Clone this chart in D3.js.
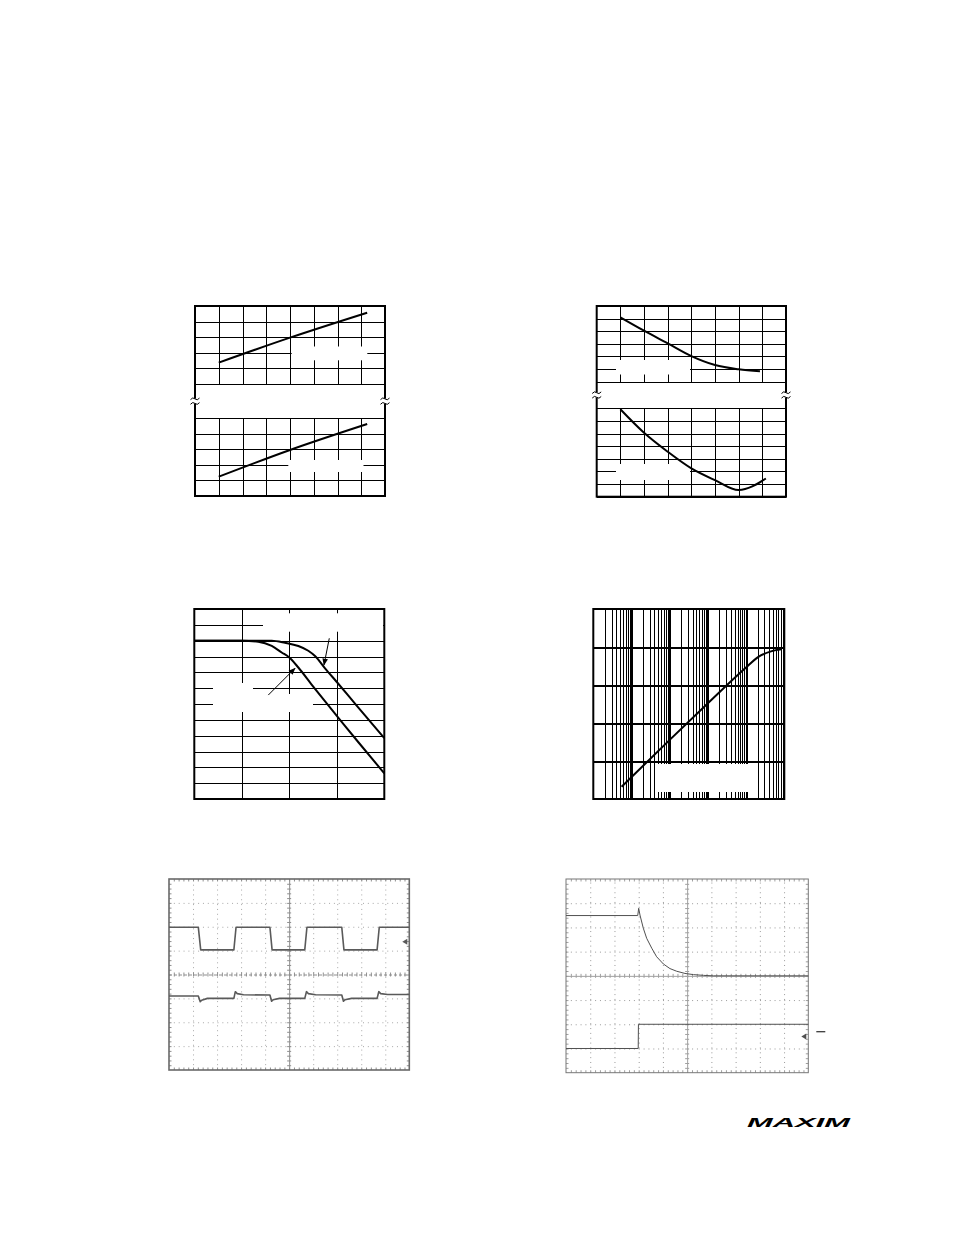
<!DOCTYPE html>
<html><head><meta charset="utf-8">
<script src="https://cdn.jsdelivr.net/npm/d3@7"></script>
<style>body{margin:0;background:#fff}svg{display:block}</style>
</head><body>
<script>
// ================= DATA =================
// Panel 1 (top-left): split axis, two straight lines vs temperature
const p1XTicks = [-60, -40, -20, 0, 20, 40, 60, 80, 100];
const p1UpperTicks = [1.5, 1.6, 1.7, 1.8, 1.9, 2.0];
const p1LowerTicks = [0.5, 0.6, 0.7, 0.8, 0.9, 1.0];
const p1Temps = [-40, 20, 85];
const p1Upper = [1.637, 1.797, 1.957];
const p1Lower = [0.624, 0.796, 0.963];

// Panel 2 (top-right): split axis, two falling curves vs temperature
const p2XTicks = [-60, -40, -20, 0, 20, 40, 60, 80, 100];
const p2UpperTicks = [0, 1, 2, 3, 4, 5, 6];
const p2LowerTicks = [0, 1, 2, 3, 4, 5, 6, 7];
const p2UpperTemps = [-40, -20, 0, 20, 40, 60, 78];
const p2Upper = [5.1, 4.04, 3.04, 2.03, 1.32, 0.98, 0.82];
const p2LowerTemps = [-40, -20, 0, 20, 40, 60, 83];
const p2Lower = [6.92, 5.06, 3.56, 2.24, 1.31, 0.53, 1.44];

// Panel 3 (middle-left): gain (dB) vs frequency, two responses
const p3XTicks = [1e3, 1e4, 1e5, 1e6, 1e7];
const p3YTicks = [-20, -18, -16, -14, -12, -10, -8, -6, -4, -2, 0, 2, 4];
const p3FreqA = [1e3, 1e4, 22200, 42700, 69200, 1e5, 155000, 295000, 562000, 1e6, 2820000, 1e7];
const p3GainA = [0, 0, -0.13, -0.67, -1.49, -2.13, -3.39, -5.54, -7.65, -9.49, -12.8, -16.76];
const p3FreqB = [1e3, 1e4, 42700, 81100, 155000, 251000, 348000, 565000, 1e6, 2620000, 1e7];
const p3GainB = [0, 0, 0, -0.26, -0.67, -1.27, -1.94, -3.49, -5.22, -8.2, -12.3];
// annotation arrows [fromFreq, fromGain, toFreq, toGain]
const p3Arrows = [[695000, 0.30, 537000, -3.07], [36100, -6.87, 132000, -3.49]];

// Panel 4 (middle-right): log-log
const p4XDecades = [1e-3, 1e-2, 1e-1, 1, 10, 100];
const p4YDecades = [1e-4, 1e-3, 1e-2, 1e-1, 1, 10];
const p4X = [0.0055, 0.1, 1, 9.3, 21, 47, 85];
const p4Y = [0.00021, 0.0036, 0.033, 0.27, 0.55, 0.78, 0.87];

// Scope 1 (bottom-left): time in divisions, volts in divisions
const s1TopT = [0, 1.22, 1.32, 2.70, 2.79, 4.20, 4.29, 5.65, 5.74, 7.19, 7.28, 8.66, 8.75, 10];
const s1TopV = [1.98, 1.98, 1.03, 1.03, 1.98, 1.98, 1.03, 1.03, 1.98, 1.98, 1.03, 1.03, 1.98, 1.98];
const s1BotT = [0, 1.22, 1.30, 1.36, 1.6, 2.70, 2.76, 2.84, 3.1, 4.20, 4.27, 4.33, 4.6, 5.65, 5.72, 5.80, 6.1, 7.19, 7.26, 7.32, 7.6, 8.66, 8.73, 8.81, 9.1, 10];
const s1BotV = [-0.9, -0.9, -1.14, -1.08, -1.0, -1.0, -0.72, -0.8, -0.85, -0.86, -1.12, -1.06, -1.0, -1.0, -0.72, -0.8, -0.85, -0.86, -1.12, -1.06, -1.0, -1.0, -0.72, -0.8, -0.84, -0.84];
const s1Markers = [1.37];

// Scope 2 (bottom-right)
const s2TopT = [0, 2.96, 3.0, 3.054, 3.19, 3.33, 3.54, 3.74, 4.02, 4.29, 4.57, 4.91, 5.26, 5.67, 6.08, 10];
const s2TopV = [2.49, 2.49, 2.79, 2.51, 1.97, 1.55, 1.14, 0.79, 0.49, 0.30, 0.19, 0.10, 0.05, 0.02, 0.0, 0.0];
const s2BotT = [0, 2.98, 2.99, 10];
const s2BotV = [-3.0, -3.0, -2.0, -2.0];
const s2Markers = [-2.51];
const s2OuterDash = [-2.31];

const scopeXTicks = [0, 1, 2, 3, 4, 5, 6, 7, 8, 9, 10];
const scopeYTicks = [-4, -3, -2, -1, 0, 1, 2, 3, 4];

// ================= DRAWING =================
const svg = d3.select('body').append('svg').attr('width', 954).attr('height', 1235);
svg.append('rect').attr('width', 954).attr('height', 1235).attr('fill', '#fff');
const defs = svg.append('defs');
defs.append('marker').attr('id', 'ah').attr('viewBox', '0 0 10 10').attr('refX', 9).attr('refY', 5)
  .attr('markerWidth', 7).attr('markerHeight', 7).attr('markerUnits', 'userSpaceOnUse').attr('orient', 'auto')
  .append('path').attr('d', 'M0,1 L10,5 L0,9 Z').attr('fill', '#000');
defs.append('filter').attr('id', 'blur').append('feGaussianBlur').attr('stdDeviation', 0.65);

function styleAxis(ax, o) {
  ax.select('.domain').remove();
  ax.selectAll('text').remove();
  ax.selectAll('line').attr('stroke', o.color || '#000').attr('stroke-width', o.width || 1)
    .attr('shape-rendering', o.crisp === false ? null : 'crispEdges')
    .attr('stroke-dasharray', o.dash || null);
  return ax;
}
function vGrid(g, scale, ticks, yTop, yBot, o = {}) {
  const ax = g.append('g').attr('transform', `translate(0,${yBot})`)
    .call(d3.axisBottom(scale).tickValues(ticks).tickSize(-(yBot - yTop)).tickFormat(''));
  return styleAxis(ax, o);
}
function hGrid(g, scale, ticks, xL, xR, o = {}) {
  const ax = g.append('g').attr('transform', `translate(${xL},0)`)
    .call(d3.axisLeft(scale).tickValues(ticks).tickSize(-(xR - xL)).tickFormat(''));
  return styleAxis(ax, o);
}
function whiteBoxes(g, boxes) {
  boxes.forEach(b => g.append('rect').attr('x', b[0]).attr('y', b[1])
    .attr('width', b[2] - b[0]).attr('height', b[3] - b[1]).attr('fill', '#fff'));
}
function frame(g, l, t, r, b, w, c) {
  g.append('rect').attr('x', l).attr('y', t).attr('width', r - l).attr('height', b - t)
    .attr('fill', 'none').attr('stroke', c || '#000').attr('stroke-width', w);
}

// ---- split-axis panels ----
function splitPanel(cfg) {
  const g = svg.append('g');
  const x = d3.scaleLinear().domain(d3.extent(cfg.xTicks)).range([cfg.left, cfg.right]);
  const yT = d3.scaleLinear().domain(d3.extent(cfg.upperTicks)).range([cfg.upperBot, cfg.top]);
  const yB = d3.scaleLinear().domain(d3.extent(cfg.lowerTicks)).range([cfg.bottom, cfg.lowerTop]);
  const inner = cfg.xTicks.slice(1, -1);
  vGrid(g, x, inner, cfg.top, cfg.upperBot);
  vGrid(g, x, inner, cfg.lowerTop, cfg.bottom);
  hGrid(g, yT, cfg.upperTicks, cfg.left, cfg.right);
  hGrid(g, yB, cfg.lowerTicks, cfg.left, cfg.right);
  whiteBoxes(g, cfg.boxes);
  frame(g, cfg.left, cfg.top, cfg.right, cfg.bottom, 2);
  const mid = (cfg.upperBot + cfg.lowerTop) / 2;
  [cfg.left, cfg.right].forEach(bx => {
    g.append('rect').attr('x', bx - 2).attr('y', mid - 2.5).attr('width', 4).attr('height', 5).attr('fill', '#fff');
    [-2.3, 2.3].forEach(dy => g.append('path')
      .attr('d', `M${bx - 4.5},${mid + dy + 0.8} q2.25,-3 4.5,-0.8 t4.5,-0.8`)
      .attr('fill', 'none').attr('stroke', '#000').attr('stroke-width', 1));
  });
  const lineT = d3.line().x(d => x(d[0])).y(d => yT(d[1])).curve(d3.curveMonotoneX);
  const lineB = d3.line().x(d => x(d[0])).y(d => yB(d[1])).curve(d3.curveMonotoneX);
  g.append('path').attr('d', lineT(d3.zip(cfg.upperX, cfg.upperY))).attr('fill', 'none').attr('stroke', '#000').attr('stroke-width', 2);
  g.append('path').attr('d', lineB(d3.zip(cfg.lowerX, cfg.lowerY))).attr('fill', 'none').attr('stroke', '#000').attr('stroke-width', 2);
}

splitPanel({
  left: 195, right: 385, top: 306, upperBot: 384, lowerTop: 418.3, bottom: 496,
  xTicks: p1XTicks, upperTicks: p1UpperTicks, lowerTicks: p1LowerTicks,
  upperX: p1Temps, upperY: p1Upper, lowerX: p1Temps, lowerY: p1Lower,
  boxes: [[291.7, 346.5, 367.3, 360.3], [288.3, 460, 363.5, 472]]
});
splitPanel({
  left: 596.7, right: 786, top: 306, upperBot: 381.7, lowerTop: 408.3, bottom: 496.7,
  xTicks: p2XTicks, upperTicks: p2UpperTicks, lowerTicks: p2LowerTicks,
  upperX: p2UpperTemps, upperY: p2Upper, lowerX: p2LowerTemps, lowerY: p2Lower,
  boxes: [[616, 360, 690, 374.5], [616, 464, 690, 480]]
});

// ---- Panel 3: frequency response ----
(function () {
  const g = svg.append('g');
  const L = 194.3, R = 384.3, T = 609, B = 799;
  const x = d3.scaleLog().domain(d3.extent(p3XTicks)).range([L, R]);
  const y = d3.scaleLinear().domain(d3.extent(p3YTicks)).range([B, T]);
  vGrid(g, x, p3XTicks.slice(1, -1), T, B);
  hGrid(g, y, p3YTicks, L, R);
  whiteBoxes(g, [[263, 613.3, 383, 631.7], [213, 683, 253, 712], [253, 694, 313, 712]]);
  frame(g, L, T, R, B, 2);
  const line = d3.line().x(d => x(d[0])).y(d => y(d[1])).curve(d3.curveMonotoneX);
  g.append('path').attr('d', line(d3.zip(p3FreqA, p3GainA))).attr('fill', 'none').attr('stroke', '#000').attr('stroke-width', 2);
  g.append('path').attr('d', line(d3.zip(p3FreqB, p3GainB))).attr('fill', 'none').attr('stroke', '#000').attr('stroke-width', 2);
  p3Arrows.forEach(a => g.append('line').attr('x1', x(a[0])).attr('y1', y(a[1])).attr('x2', x(a[2])).attr('y2', y(a[3]))
    .attr('stroke', '#000').attr('stroke-width', 1).attr('marker-end', 'url(#ah)'));
})();

// ---- Panel 4: log-log ----
(function () {
  const g = svg.append('g');
  const L = 593.3, R = 784.3, T = 609, B = 799;
  const x = d3.scaleLog().domain(d3.extent(p4XDecades)).range([L, R]);
  const y = d3.scaleLog().domain(d3.extent(p4YDecades)).range([B, T]);
  const minor = x.ticks().filter(v => !p4XDecades.some(d => Math.abs(v / d - 1) < 1e-6));
  vGrid(g, x, minor, T, B, { width: 1 });
  vGrid(g, x, p4XDecades.slice(1, -1), T, B, { width: 2 });
  hGrid(g, y, p4YDecades.slice(1, -1), L, R, { width: 2 });
  whiteBoxes(g, [[657, 764, 757, 792]]);
  frame(g, L, T, R, B, 2);
  const line = d3.line().x(d => x(d[0])).y(d => y(d[1])).curve(d3.curveMonotoneX);
  g.append('path').attr('d', line(d3.zip(p4X, p4Y))).attr('fill', 'none').attr('stroke', '#000').attr('stroke-width', 2);
})();

// ---- Scope screens ----
function scope(cfg) {
  const g = svg.append('g');
  if (cfg.blur) g.attr('filter', 'url(#blur)');
  const x = d3.scaleLinear().domain(d3.extent(scopeXTicks)).range([cfg.left, cfg.right]);
  const y = d3.scaleLinear().domain(d3.extent(scopeYTicks)).range([cfg.bottom, cfg.top]);
  const vIn = scopeXTicks.slice(1, -1).filter(v => v !== 5);
  const hIn = scopeYTicks.slice(1, -1).filter(v => v !== 0);
  const dash = '1 3.85';
  vGrid(g, x, vIn, cfg.top, cfg.bottom, { color: cfg.grid, dash: dash, crisp: false });
  hGrid(g, y, hIn, cfg.left, cfg.right, { color: cfg.grid, dash: dash, crisp: false });
  vGrid(g, x, [5], cfg.top, cfg.bottom, { color: cfg.center, crisp: false });
  hGrid(g, y, [0], cfg.left, cfg.right, { color: cfg.center, crisp: false, dash: cfg.centerHDash });
  // minor ticks on centre lines and frame edges
  const fine = d3.range(0, 50).map(i => i / 5).filter(v => v > 0);
  const fineY = d3.range(-20, 20).map(i => i / 5).filter(v => v > -4);
  const tickStyle = { color: cfg.center, crisp: false };
  const tk = (gen, tr) => styleAxis(g.append('g').attr('transform', tr).call(gen), tickStyle);
  tk(d3.axisBottom(x).tickValues(fine).tickSize(4).tickFormat(''), `translate(0,${y(0) - 2})`);
  tk(d3.axisRight(y).tickValues(fineY).tickSize(4).tickFormat(''), `translate(${x(5) - 2},0)`);
  tk(d3.axisBottom(x).tickValues(fine).tickSize(2.5).tickFormat(''), `translate(0,${cfg.top})`);
  tk(d3.axisTop(x).tickValues(fine).tickSize(2.5).tickFormat(''), `translate(0,${cfg.bottom})`);
  tk(d3.axisRight(y).tickValues(fineY).tickSize(2.5).tickFormat(''), `translate(${cfg.left},0)`);
  tk(d3.axisLeft(y).tickValues(fineY).tickSize(2.5).tickFormat(''), `translate(${cfg.right},0)`);
  frame(g, cfg.left, cfg.top, cfg.right, cfg.bottom, cfg.frameW, cfg.frame);
  const line = d3.line().x(d => x(d[0])).y(d => y(d[1])).curve(d3.curveLinear);
  cfg.traces.forEach(tr => g.append('path').attr('d', line(d3.zip(tr[0], tr[1])))
    .attr('fill', 'none').attr('stroke', cfg.trace).attr('stroke-width', cfg.traceW).attr('stroke-linejoin', 'round'));
  cfg.markers.forEach(v => g.append('path')
    .attr('d', `M${cfg.right - 7},${y(v)} l5,-3 l0,6 Z`).attr('fill', cfg.trace));
  (cfg.dashes || []).forEach(v => g.append('line').attr('x1', cfg.right + 8).attr('x2', cfg.right + 17)
    .attr('y1', y(v)).attr('y2', y(v)).attr('stroke', '#000').attr('stroke-width', 1));
}
scope({
  left: 169, right: 409.3, top: 879, bottom: 1070, blur: true,
  grid: '#a8a8a8', center: '#8f8f8f', centerHDash: '3 2', frame: '#6a6a6a', frameW: 1.6, trace: '#5a5a5a', traceW: 1.6,
  traces: [[s1TopT, s1TopV], [s1BotT, s1BotV]], markers: s1Markers
});
scope({
  left: 566, right: 808.3, top: 879, bottom: 1072.7, blur: false,
  grid: '#9a9a9a', center: '#a0a0a0', frame: '#777', frameW: 1, trace: '#505050', traceW: 1,
  traces: [[s2TopT, s2TopV], [s2BotT, s2BotV]], markers: s2Markers, dashes: s2OuterDash
});

// ---- logo ----
svg.append('text').attr('x', 747).attr('y', 1127).text('MAXIM')
  .attr('font-family', '"Liberation Sans", Arial, sans-serif').attr('font-weight', 900)
  .attr('font-style', 'italic').attr('font-size', 12.5)
  .attr('textLength', 103).attr('lengthAdjust', 'spacingAndGlyphs').attr('fill', '#000');
</script>
</body></html>
